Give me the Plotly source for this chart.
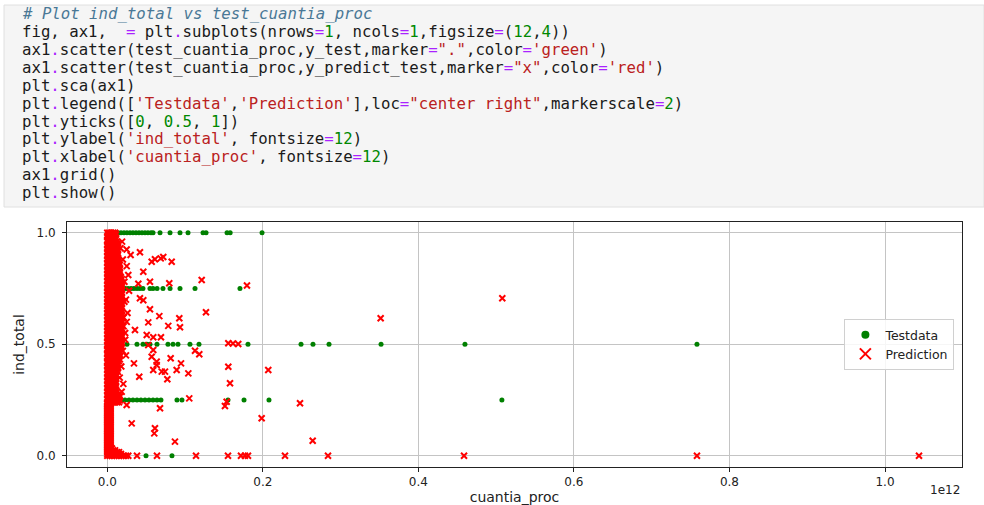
import re
import plotly.graph_objects as go

# ---------------- data (x in units of 1e12) ----------------
code_lines = [
    "# Plot ind_total vs test_cuantia_proc",
    "fig, ax1,  = plt.subplots(nrows=1, ncols=1,figsize=(12,4))",
    "ax1.scatter(test_cuantia_proc,y_test,marker=\".\",color='green')",
    "ax1.scatter(test_cuantia_proc,y_predict_test,marker=\"x\",color='red')",
    "plt.sca(ax1)",
    "plt.legend(['Testdata','Prediction'],loc=\"center right\",markerscale=2)",
    "plt.yticks([0, 0.5, 1])",
    "plt.ylabel('ind_total', fontsize=12)",
    "plt.xlabel('cuantia_proc', fontsize=12)",
    "ax1.grid()",
    "plt.show()",
]

series_names = ["Testdata", "Prediction"]
x_tick_vals = [0.0, 0.2, 0.4, 0.6, 0.8, 1.0]
x_tick_text = ["0.0", "0.2", "0.4", "0.6", "0.8", "1.0"]
y_tick_vals = [0, 0.5, 1]
y_tick_text = ["0.0", "0.5", "1.0"]

# Testdata (green dots)
test_x = [
    0.002, 0.006, 0.010, 0.0138, 0.0176, 0.0215, 0.0253, 0.0292, 0.033, 0.0369, 0.0408, 0.0446,
    0.0485, 0.0523, 0.0562, 0.0588, 0.0678, 0.0807, 0.0935, 0.1038, 0.1231, 0.127, 0.154, 0.158, 0.199,
    0.004, 0.012, 0.0229, 0.0266, 0.0305, 0.0343, 0.0382, 0.042, 0.0459, 0.0549, 0.0588, 0.064,
    0.0716, 0.0807, 0.0935, 0.1128, 0.1706,
    0.003, 0.011, 0.0253, 0.0382, 0.0459, 0.051, 0.0549, 0.0639, 0.078, 0.0845, 0.0909, 0.1063,
    0.1179, 0.1809, 0.2491, 0.2645, 0.2851, 0.352, 0.4599, 0.7582,
    0.0073, 0.0125, 0.0176, 0.0228, 0.0279, 0.033, 0.0382, 0.0433, 0.0485, 0.0536, 0.0588, 0.0639,
    0.069, 0.0896, 0.096, 0.1552, 0.1758, 0.2079, 0.5074,
    0.001, 0.009, 0.0498, 0.0832,
]
test_y = [
    1, 1, 1, 1, 1, 1, 1, 1, 1, 1, 1, 1,
    1, 1, 1, 1, 1, 1, 1, 1, 1, 1, 1, 1, 1,
    0.75, 0.75, 0.75, 0.75, 0.75, 0.75, 0.75, 0.75, 0.75, 0.75, 0.75, 0.75,
    0.75, 0.75, 0.75, 0.75, 0.75,
    0.5, 0.5, 0.5, 0.5, 0.5, 0.5, 0.5, 0.5, 0.5, 0.5, 0.5, 0.5,
    0.5, 0.5, 0.5, 0.5, 0.5, 0.5, 0.5, 0.5,
    0.25, 0.25, 0.25, 0.25, 0.25, 0.25, 0.25, 0.25, 0.25, 0.25, 0.25, 0.25,
    0.25, 0.25, 0.25, 0.25, 0.25, 0.25, 0.25,
    0, 0, 0, 0,
]

# Prediction: dense cluster near zero, read band by band (row y values + x values per row)
P10 = [0.0, 0.0025, 0.005, 0.0075, 0.01]
Q10 = [0.0012, 0.0037, 0.0062, 0.0087, 0.0112]
P12 = [0.0, 0.0025, 0.005, 0.0075, 0.01, 0.0125]
Q12 = [0.0012, 0.0037, 0.0062, 0.0087, 0.0112, 0.0137]
P15 = [0.0, 0.0025, 0.005, 0.0075, 0.01, 0.0125, 0.015]
Q15 = [0.0012, 0.0037, 0.0062, 0.0087, 0.0112, 0.0137, 0.0162]
P18 = [0.0, 0.0025, 0.005, 0.0075, 0.01, 0.0125, 0.015, 0.0175]
Q18 = [0.0012, 0.0037, 0.0062, 0.0087, 0.0112, 0.0137, 0.0162, 0.0187]
N4 = [0.0, 0.0022, 0.0042]
A6 = [0.0, 0.003, 0.006]
Z27 = [0.0, 0.003, 0.006, 0.009, 0.012, 0.015, 0.018, 0.021, 0.024, 0.027]

band_top_y = [1.0, 0.992, 0.984, 0.976, 0.968]
band_upper_y = [0.96, 0.952, 0.944, 0.936, 0.928, 0.92, 0.912, 0.904, 0.896, 0.888, 0.88, 0.872]
band_shoulder_y = [0.864, 0.856, 0.848, 0.84, 0.832, 0.824, 0.816, 0.808]
band_wide_y = [
    0.8, 0.792, 0.784, 0.776, 0.768, 0.76, 0.752, 0.744, 0.736, 0.728, 0.72, 0.712, 0.704, 0.696,
    0.688, 0.68, 0.672, 0.664, 0.656, 0.648, 0.64, 0.632, 0.624, 0.616, 0.608, 0.6, 0.592, 0.584,
    0.576, 0.568, 0.56, 0.552, 0.544, 0.536, 0.528, 0.52, 0.512, 0.504, 0.496, 0.488, 0.48,
]
band_mid_y = [0.472, 0.464, 0.456, 0.448, 0.44, 0.432, 0.424]
band_lower_y = [0.416, 0.408, 0.4, 0.392, 0.384, 0.376]
band_low_y = [0.368, 0.36, 0.352, 0.344, 0.336, 0.328, 0.32, 0.312, 0.304, 0.296, 0.288, 0.28]
band_quarter_y = [0.272, 0.264, 0.256, 0.248, 0.24]
band_narrow_y = [
    0.232, 0.224, 0.216, 0.208, 0.2, 0.192, 0.184, 0.176, 0.168, 0.16, 0.152, 0.144, 0.136,
    0.128, 0.12, 0.112, 0.104, 0.096, 0.088, 0.08, 0.072, 0.064, 0.056, 0.048, 0.04,
]

cluster_bands = [
    (band_top_y, P10, Q10), (band_upper_y, P12, Q12), (band_shoulder_y, P15, Q15),
    (band_wide_y, P18, Q18), (band_mid_y, P15, Q15), (band_lower_y, P12, Q12),
    (band_low_y, P10, Q10), (band_quarter_y, P15, Q15), (band_narrow_y, N4, N4),
]
cluster_bottom = [(0.032, A6), (0.024, P10), (0.016, P15), (0.008, P18), (0.0, Z27)]

# Prediction: scattered points
pred_sparse_x = [
    0.0249, 0.042, 0.0571, 0.0687, 0.0828, 0.0613, 0.072, 0.0463, 0.0549, 0.0399,
    0.0797, 0.1214, 0.1796, 0.042, 0.0463, 0.0549, 0.0669, 0.0926, 0.1269, 0.0527,
    0.0784, 0.0935, 0.0356, 0.0507, 0.0591, 0.069, 0.0527, 0.0591, 0.1556, 0.1616,
    0.1684, 0.1128, 0.1183, 0.0571, 0.0635, 0.0635, 0.0815, 0.0948, 0.0343, 0.0591,
    0.070, 0.0742, 0.0892, 0.1042, 0.0411, 0.0772, 0.0206, 0.0185, 0.1556, 0.207,
    0.1578, 0.1054, 0.0249, 0.0678, 0.1535, 0.1513, 0.2478, 0.1985, 0.0314, 0.0613,
    0.0604, 0.087, 0.2641, 0.3515, 0.5079,
    0.019, 0.030, 0.025, 0.028, 0.026, 0.024, 0.022, 0.021, 0.027, 0.023,
    0.022, 0.024, 0.021, 0.023, 0.020, 0.018, 0.016, 0.020, 0.017, 0.025,
    0.0382, 0.0639, 0.1141, 0.1552, 0.1719, 0.177, 0.1809, 0.2285, 0.2838, 0.4587, 0.7582, 1.0437,
]
pred_sparse_y = [
    0.925, 0.912, 0.87, 0.885, 0.87, 0.881, 0.891, 0.825, 0.78, 0.771,
    0.773, 0.788, 0.763, 0.706, 0.697, 0.657, 0.626, 0.616, 0.643, 0.598,
    0.582, 0.576, 0.564, 0.541, 0.531, 0.531, 0.496, 0.474, 0.504, 0.503,
    0.501, 0.471, 0.455, 0.444, 0.422, 0.407, 0.437, 0.414, 0.414, 0.384,
    0.377, 0.377, 0.384, 0.369, 0.354, 0.343, 0.322, 0.287, 0.399, 0.384,
    0.325, 0.257, 0.227, 0.213, 0.242, 0.223, 0.235, 0.168, 0.145, 0.123,
    0.1, 0.063, 0.067, 0.616, 0.706,
    0.96, 0.9, 0.85, 0.74, 0.64, 0.45, 0.69, 0.58, 0.81, 0.52,
    0.78, 0.70, 0.62, 0.55, 0.47, 0.40, 0.35, 0.88, 0.93, 0.60,
    0, 0, 0, 0, 0, 0, 0, 0, 0, 0, 0, 0,
]

pred_x, pred_y = [], []
for rows_y, even_xs, odd_xs in cluster_bands:
    for k, yv in enumerate(rows_y):
        xs = even_xs if k % 2 == 0 else odd_xs
        pred_x += xs
        pred_y += [yv] * len(xs)
for yv, xs in cluster_bottom:
    pred_x += xs
    pred_y += [yv] * len(xs)
pred_x += pred_sparse_x
pred_y += pred_sparse_y

# ---------------- layout geometry ----------------
W, H = 984, 505
ML, MR, MT, MB = 67, 22, 222, 38
PL, PR, PT, PB = ML, W - MR, MT, H - MB


def pxx(x):
    return (x - PL) / (PR - PL)


def pxy(y):
    return (PB - y) / (PB - PT)


C_OP = "#AA22FF"
C_NUM = "#008800"
C_STR = "#BA2121"
C_COM = "#4a7896"
C_TXT = "#1a1a1a"

tok_re = re.compile(r"('[^']*'|\"[^\"]*\")|([A-Za-z_]\w*)|(\d+(?:\.\d+)?)|([=.])|(\s+)|(.)")


def esc(s):
    return s.replace("&", "&amp;").replace("<", "&lt;").replace(">", "&gt;").replace(" ", "\u00a0")


def highlight(line):
    if line.startswith("#"):
        return f'<i><span style="color:{C_COM}">{esc(line)}</span></i>'
    out = []
    for m in tok_re.finditer(line):
        s, ident, num, op, ws, other = m.groups()
        if s:
            out.append(f'<span style="color:{C_STR}">{esc(s)}</span>')
        elif ident:
            out.append(esc(ident))
        elif num:
            out.append(f'<span style="color:{C_NUM}">{esc(num)}</span>')
        elif op:
            out.append(f'<span style="color:{C_OP}">{esc(op)}</span>')
        else:
            out.append(esc(ws or other))
    return "".join(out)


fig = go.Figure()

fig.add_trace(go.Scatter(
    x=test_x, y=test_y, mode="markers", name=series_names[0], showlegend=False,
    marker=dict(symbol="circle", size=5, color="green"),
))
fig.add_trace(go.Scatter(
    x=pred_x, y=pred_y, mode="markers", name=series_names[1], showlegend=False,
    marker=dict(symbol="x-thin", size=6, color="red", line=dict(width=2, color="red")),
))
# legend entries (markerscale=2)
fig.add_trace(go.Scatter(
    x=[None], y=[None], mode="markers", name=series_names[0],
    marker=dict(symbol="circle", size=8, color="green"),
))
fig.add_trace(go.Scatter(
    x=[None], y=[None], mode="markers", name=series_names[1],
    marker=dict(symbol="x-thin", size=11, color="red", line=dict(width=2, color="red")),
))

annotations = []
for i, line in enumerate(code_lines):
    annotations.append(dict(
        x=pxx(20), y=pxy(13.5 + i * 17.92), xref="paper", yref="paper",
        xanchor="left", yanchor="middle", showarrow=False,
        text=highlight(line),
        font=dict(family="DejaVu Sans Mono", size=15.7, color=C_TXT),
    ))
annotations.append(dict(
    x=1.0, y=pxy(490), xref="paper", yref="paper", xanchor="right", yanchor="middle",
    showarrow=False, text="1e12", font=dict(family="DejaVu Sans", size=12, color="#222"),
))

shapes = [dict(
    type="rect", xref="paper", yref="paper", layer="below",
    x0=pxx(4), x1=pxx(984), y0=pxy(207), y1=pxy(5),
    fillcolor="#f5f5f5", line=dict(color="#e0e0e0", width=1),
)]

axis_common = dict(
    showline=True, mirror=True, linecolor="#222", linewidth=1,
    ticks="outside", ticklen=4, tickcolor="#222", tickwidth=1,
    showgrid=True, gridcolor="#c4c4c4", gridwidth=1, zeroline=False,
    tickfont=dict(family="DejaVu Sans", size=12, color="#222"),
    automargin=False,
)

fig.update_layout(
    width=W, height=H, autosize=False,
    margin=dict(l=ML, r=MR, t=MT, b=MB, pad=0),
    paper_bgcolor="white", plot_bgcolor="white",
    xaxis=dict(
        range=[-0.0518, 1.099], tickvals=x_tick_vals, ticktext=x_tick_text,
        title=dict(text="cuantia_proc", font=dict(family="DejaVu Sans", size=14, color="#222"), standoff=4),
        **axis_common,
    ),
    yaxis=dict(
        range=[-0.0507, 1.048], tickvals=y_tick_vals, ticktext=y_tick_text,
        ticklabelstandoff=4,
        title=dict(text="ind_total", font=dict(family="DejaVu Sans", size=14, color="#222"), standoff=8),
        **axis_common,
    ),
    legend=dict(
        x=0.9915, y=0.5, xanchor="right", yanchor="middle",
        bgcolor="rgba(255,255,255,0.85)", bordercolor="#d0d0d0", borderwidth=1,
        font=dict(family="DejaVu Sans", size=12.5, color="#222"),
        itemsizing="trace",
    ),
    annotations=annotations,
    shapes=shapes,
    showlegend=True,
)

fig.write_html("out.html", config={"displayModeBar": False},
               post_script="document.body.style.margin='0';")
